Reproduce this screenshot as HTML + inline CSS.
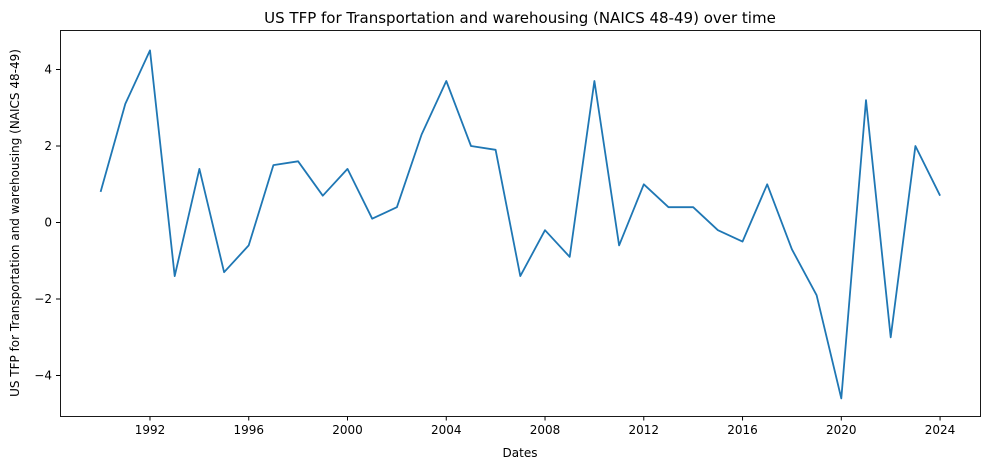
<!DOCTYPE html>
<html><head><meta charset="utf-8"><style>
body{margin:0;background:#fff;}
svg text{font-family:"DejaVu Sans","Liberation Sans",sans-serif;fill:#000;}
</style></head><body>
<svg id="s" width="989" height="470" xmlns="http://www.w3.org/2000/svg">
<rect x="0" y="0" width="989" height="470" fill="#fff"/>
<text x="520" y="23" font-size="15" text-anchor="middle">US TFP for Transportation and warehousing (NAICS 48-49) over time</text>
<text x="520" y="457" font-size="12" text-anchor="middle">Dates</text>
<text transform="translate(19,223) rotate(-90)" font-size="12" text-anchor="middle">US TFP for Transportation and warehousing (NAICS 48-49)</text>
<g id="ticks"></g>
<polyline id="line" fill="none" stroke="#1f77b4" stroke-width="1.8" stroke-linejoin="round"/>
<rect x="60.5" y="30.5" width="920" height="386" fill="none" stroke="#000" stroke-width="0.9"/>
</svg>
<script>
var vals=[0.8,3.1,4.5,-1.4,1.4,-1.3,-0.6,1.5,1.6,0.7,1.4,0.1,0.4,2.3,3.7,2.0,1.9,-1.4,-0.2,-0.9,3.7,-0.6,1.0,0.4,0.4,-0.2,-0.5,1.0,-0.7,-1.9,-4.6,3.2,-3.0,2.0,0.7];
function X(y){return 100.6+24.69*(y-1990);}function Y(v){return 222.5-38.25*v;}
var p=vals.map(function(v,i){return X(1990+i).toFixed(1)+","+Y(v).toFixed(1);}).join(" ");
document.getElementById("line").setAttribute("points",p);
var g=document.getElementById("ticks"),h="";
for(var y=1992;y<=2024;y+=4){var x=X(y);h+='<line x1="'+x+'" x2="'+x+'" y1="416.5" y2="420.5" stroke="#000"/><text x="'+x+'" y="434" font-size="12" text-anchor="middle">'+y+'</text>';}
for(var v=-4;v<=4;v+=2){var yy=Y(v);h+='<line x1="56" x2="60.5" y1="'+yy+'" y2="'+yy+'" stroke="#000"/><text x="52" y="'+(yy+4)+'" font-size="12" text-anchor="end">'+(v<0?'\u2212'+(-v):v)+'</text>';}
g.innerHTML=h;
</script>
</body></html>
